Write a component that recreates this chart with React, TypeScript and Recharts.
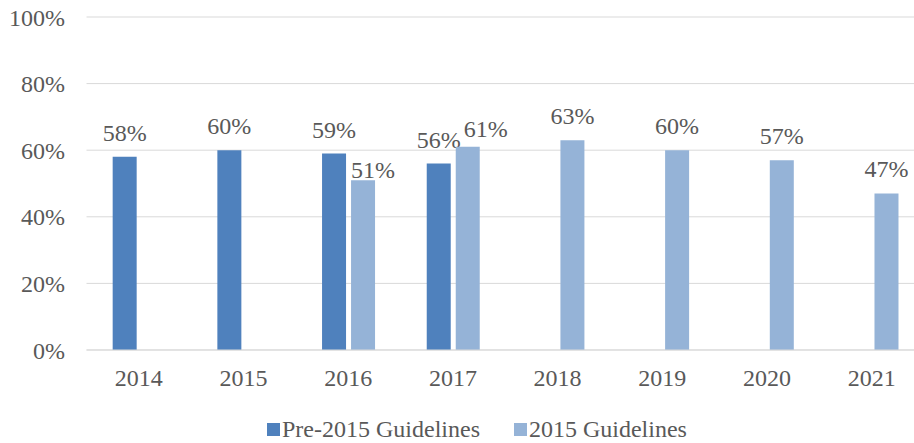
import { Bar, BarChart, CartesianGrid, Legend, Rectangle, XAxis, YAxis } from "recharts";

const years = ["2014", "2015", "2016", "2017", "2018", "2019", "2020", "2021"];
const pre2015 = [58, 60, 59, 56, null, null, null, null];
const guidelines2015 = [null, null, 51, 61, 63, 60, 57, 47];
const yTicks = [0, 20, 40, 60, 80, 100];

const data = years.map((year, i) => ({ year, pre: pre2015[i], g2015: guidelines2015[i] }));

const FONT = '"Liberation Serif", "Times New Roman", serif';
const TEXT = "#595959";
const DARK = "#4F81BD";
const LIGHT = "#95B3D7";

// Excel moved a couple of labels sideways so they don't collide
const labelNudge: Record<string, [number, number]> = {
  "g2015-2016": [10, 14],
  "g2015-2017": [18, 6],
};

function makeShape(key: "pre" | "g2015") {
  return (props: any) => {
    const { x, y, width, height, fill, payload } = props;
    const value = payload?.[key];
    if (value == null) return <g />;
    const [dx, dy] = labelNudge[`${key}-${payload.year}`] ?? [0, 0];
    return (
      <g>
        <Rectangle x={x} y={y} width={width} height={height} fill={fill} />
        <text
          x={x + width / 2 + dx}
          y={y - 16 + dy}
          textAnchor="middle"
          fill={TEXT}
          fontSize={24}
          fontFamily={FONT}
        >
          {value}%
        </text>
      </g>
    );
  };
}

function ChartLegend() {
  const items = [
    { name: "Pre-2015 Guidelines", color: DARK },
    { name: "2015 Guidelines", color: LIGHT },
  ];
  return (
    <div style={{ height: 43, display: "flex", alignItems: "center", paddingLeft: 267, paddingTop: 15, boxSizing: "border-box" }}>
      {items.map((it) => (
        <span key={it.name} style={{ display: "flex", alignItems: "center", marginRight: 34 }}>
          <span style={{ width: 13, height: 13, background: it.color, marginRight: 2 }} />
          <span style={{ fontFamily: FONT, fontSize: 24, color: TEXT, lineHeight: "24px" }}>{it.name}</span>
        </span>
      ))}
    </div>
  );
}

export default function App() {
  return (
    <div style={{ position: "fixed", left: 0, top: 0, width: 914, height: 443, overflow: "hidden", background: "#fff" }}>
      <BarChart
        width={924}
        height={443}
        data={data}
        margin={{ top: 17, right: 0, bottom: 0, left: 0 }}
        barCategoryGap="25%"
        barGap={5}
      >
        <CartesianGrid vertical={false} stroke="#D9D9D9" strokeWidth={1} />
        <XAxis
          dataKey="year"
          height={50}
          tickLine={false}
          tickSize={8}
          tickMargin={11}
          axisLine={{ stroke: "#D9D9D9" }}
          tick={{ fill: TEXT, fontSize: 24, fontFamily: FONT }}
        />
        <YAxis
          width={86.5}
          domain={[0, 100]}
          ticks={yTicks}
          tickFormatter={(v) => `${v}%`}
          axisLine={false}
          tickLine={false}
          tickSize={8}
          tickMargin={13.5}
          tick={{ fill: TEXT, fontSize: 24, fontFamily: FONT }}
        />
        <Legend verticalAlign="bottom" content={() => <ChartLegend />} />
        <Bar dataKey="pre" name="Pre-2015 Guidelines" fill={DARK} isAnimationActive={false} shape={makeShape("pre")} />
        <Bar dataKey="g2015" name="2015 Guidelines" fill={LIGHT} isAnimationActive={false} shape={makeShape("g2015")} />
      </BarChart>
    </div>
  );
}
